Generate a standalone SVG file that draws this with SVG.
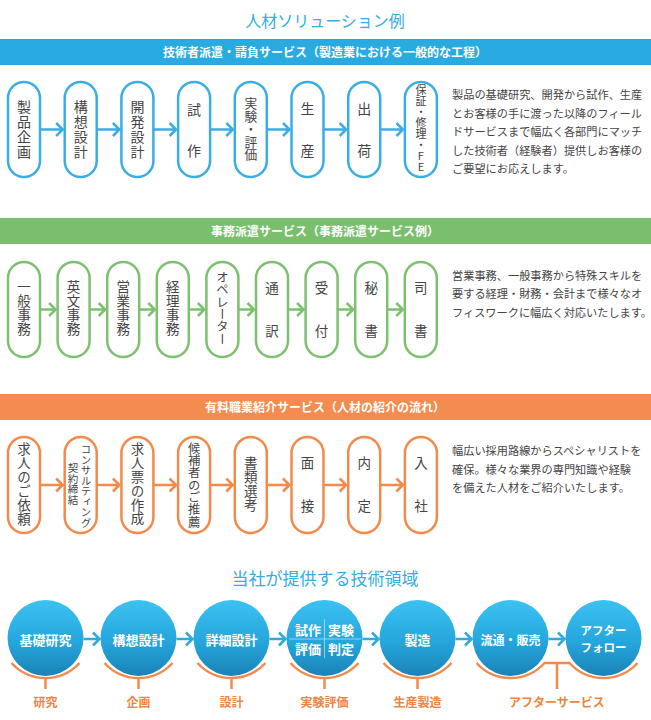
<svg xmlns="http://www.w3.org/2000/svg" width="651" height="720" viewBox="0 0 651 720">
<style>
text{font-family:"Noto Sans CJK JP","Noto Sans",sans-serif}
.title{font-size:16px;fill:#33ade2;text-anchor:middle}
.bn{font-size:12px;font-weight:bold;fill:#fff;text-anchor:middle}
.v{writing-mode:vertical-rl;text-anchor:middle;fill:#444}
.desc{font-size:11.2px;fill:#444}
.pb{fill:#fff;stroke:#3aaee3;stroke-width:2.5}
.pg{fill:#fff;stroke:#7cc070;stroke-width:2.5}
.po{fill:#fff;stroke:#f28a4c;stroke-width:2.5}
.ab{fill:none;stroke:#3aaee3;stroke-width:2.5}
.ag{fill:none;stroke:#7cc070;stroke-width:2.5}
.ao{fill:none;stroke:#f28a4c;stroke-width:2.5}
.ac{fill:none;stroke:#2eaae0;stroke-width:2.5}
.ol{fill:none;stroke:#f28a4c;stroke-width:2.5}
.ct{font-size:13px;font-weight:bold;fill:#fff;text-anchor:middle}
.lb{font-size:12px;font-weight:bold;fill:#f0843e;text-anchor:middle}
</style>
<defs>
<linearGradient id="cg" x1="0" y1="0" x2="0" y2="1">
<stop offset="0" stop-color="#3cc2f2"/>
<stop offset="0.55" stop-color="#25a6dd"/>
<stop offset="1" stop-color="#1b82b6"/>
</linearGradient>
</defs>
<rect width="651" height="720" fill="#fff"/>

<text class="title" x="325" y="27">人材ソリューション例</text>

<!-- Section 1 -->
<g id="banner1">
<rect x="0" y="39" width="651" height="26" fill="#29abe2"/>
<text class="bn" x="325" y="56.5">技術者派遣・請負サービス（製造業における一般的な工程）</text>
</g>
<g id="n1-1"><rect class="pb" x="8" y="82" width="32" height="95" rx="16"/><text class="v" x="24" y="130" font-size="14" letter-spacing="1">製品企画</text></g>
<g id="n1-2"><rect class="pb" x="64.7" y="82" width="32" height="95" rx="16"/><text class="v" x="80.7" y="130" font-size="14" letter-spacing="1">構想設計</text></g>
<g id="n1-3"><rect class="pb" x="121.4" y="82" width="32" height="95" rx="16"/><text class="v" x="137.4" y="130" font-size="14" letter-spacing="1">開発設計</text></g>
<g id="n1-4"><rect class="pb" x="178.1" y="82" width="32" height="95" rx="16"/><text class="v" x="194.1" font-size="14"><tspan y="110">試</tspan><tspan x="194.1" y="151">作</tspan></text></g>
<g id="n1-5"><rect class="pb" x="234.8" y="82" width="32" height="95" rx="16"/><text class="v" x="250.8" y="129" font-size="12.7">実験・評価</text></g>
<g id="n1-6"><rect class="pb" x="291.5" y="82" width="32" height="95" rx="16"/><text class="v" x="307.5" font-size="14"><tspan y="109">生</tspan><tspan x="307.5" y="151">産</tspan></text></g>
<g id="n1-7"><rect class="pb" x="348.2" y="82" width="32" height="95" rx="16"/><text class="v" x="364.2" font-size="14"><tspan y="109">出</tspan><tspan x="364.2" y="151">荷</tspan></text></g>
<g id="n1-8"><rect class="pb" x="404.9" y="82" width="32" height="95" rx="16"/><text class="v" x="420.9" y="128" font-size="11" style="text-orientation:upright">保証・修理・FE</text></g>
<g id="arrows1">
<path class="ab" d="M40 129.5H62.7M56.2 123L62.7 129.5L56.2 136"/>
<path class="ab" d="M96.7 129.5H119.4M112.9 123L119.4 129.5L112.9 136"/>
<path class="ab" d="M153.4 129.5H176.1M169.6 123L176.1 129.5L169.6 136"/>
<path class="ab" d="M210.1 129.5H232.8M226.3 123L232.8 129.5L226.3 136"/>
<path class="ab" d="M266.8 129.5H289.5M283 123L289.5 129.5L283 136"/>
<path class="ab" d="M323.5 129.5H346.2M339.7 123L346.2 129.5L339.7 136"/>
<path class="ab" d="M380.2 129.5H402.9M396.4 123L402.9 129.5L396.4 136"/>
</g>
<text class="desc" x="452"><tspan y="99">製品の基礎研究、開発から試作、生産</tspan><tspan x="452" y="117.5">とお客様の手に渡った以降のフィール</tspan><tspan x="452" y="136">ドサービスまで幅広く各部門にマッチ</tspan><tspan x="452" y="154.5">した技術者（経験者）提供しお客様の</tspan><tspan x="452" y="173">ご要望にお応えします。</tspan></text>

<!-- Section 2 -->
<g id="banner2">
<rect x="0" y="218" width="651" height="26" fill="#79bf6d"/>
<text class="bn" x="325" y="235.5">事務派遣サービス（事務派遣サービス例）</text>
</g>
<g id="n2-1"><rect class="pg" x="8" y="262" width="32" height="95" rx="16"/><text class="v" x="24" y="308" font-size="13.5" letter-spacing="0.3">一般事務</text></g>
<g id="n2-2"><rect class="pg" x="57.6" y="262" width="32" height="95" rx="16"/><text class="v" x="73.6" y="308" font-size="13.5" letter-spacing="0.3">英文事務</text></g>
<g id="n2-3"><rect class="pg" x="107.2" y="262" width="32" height="95" rx="16"/><text class="v" x="123.2" y="308" font-size="13.5" letter-spacing="0.3">営業事務</text></g>
<g id="n2-4"><rect class="pg" x="156.8" y="262" width="32" height="95" rx="16"/><text class="v" x="172.8" y="308" font-size="13.5" letter-spacing="0.3">経理事務</text></g>
<g id="n2-5"><rect class="pg" x="206.4" y="262" width="32" height="95" rx="16"/><text class="v" x="222.4" y="308" font-size="12.4">オペレーター</text></g>
<g id="n2-6"><rect class="pg" x="256" y="262" width="32" height="95" rx="16"/><text class="v" x="272" font-size="13.5"><tspan y="288">通</tspan><tspan x="272" y="330">訳</tspan></text></g>
<g id="n2-7"><rect class="pg" x="305.6" y="262" width="32" height="95" rx="16"/><text class="v" x="321.6" font-size="13.5"><tspan y="288">受</tspan><tspan x="321.6" y="330">付</tspan></text></g>
<g id="n2-8"><rect class="pg" x="355.2" y="262" width="32" height="95" rx="16"/><text class="v" x="371.2" font-size="13.5"><tspan y="288">秘</tspan><tspan x="371.2" y="330">書</tspan></text></g>
<g id="n2-9"><rect class="pg" x="404.8" y="262" width="32" height="95" rx="16"/><text class="v" x="420.8" font-size="13.5"><tspan y="288">司</tspan><tspan x="420.8" y="330">書</tspan></text></g>
<g id="arrows2">
<path class="ag" d="M40 309.5H55.6M49.1 303L55.6 309.5L49.1 316"/>
<path class="ag" d="M89.6 309.5H105.2M98.7 303L105.2 309.5L98.7 316"/>
<path class="ag" d="M139.2 309.5H154.8M148.3 303L154.8 309.5L148.3 316"/>
<path class="ag" d="M188.8 309.5H204.4M197.9 303L204.4 309.5L197.9 316"/>
<path class="ag" d="M238.4 309.5H254M247.5 303L254 309.5L247.5 316"/>
<path class="ag" d="M288 309.5H303.6M297.1 303L303.6 309.5L297.1 316"/>
<path class="ag" d="M337.6 309.5H353.2M346.7 303L353.2 309.5L346.7 316"/>
<path class="ag" d="M387.2 309.5H402.8M396.3 303L402.8 309.5L396.3 316"/>
</g>
<text class="desc" x="452"><tspan y="279.5">営業事務、一般事務から特殊スキルを</tspan><tspan x="452" y="298">要する経理・財務・会計まで様々なオ</tspan><tspan x="452" y="316.5">フィスワークに幅広く対応いたします。</tspan></text>

<!-- Section 3 -->
<g id="banner3">
<rect x="0" y="394" width="651" height="26" fill="#f48b4f"/>
<text class="bn" x="325" y="411.5">有料職業紹介サービス（人材の紹介の流れ）</text>
</g>
<g id="n3-1"><rect class="po" x="8" y="437" width="32" height="96" rx="16"/><text class="v" x="24" y="484" font-size="13.5" letter-spacing="0.5">求人のご依頼</text></g>
<g id="n3-2"><rect class="po" x="64.7" y="437" width="32" height="96" rx="16"/><text class="v" font-size="10.5"><tspan x="86" y="486">コンサルティング</tspan><tspan x="73" y="484">契約締結</tspan></text></g>
<g id="n3-3"><rect class="po" x="121.4" y="437" width="32" height="96" rx="16"/><text class="v" x="137.4" y="484" font-size="13.5" letter-spacing="0.3">求人票の作成</text></g>
<g id="n3-4"><rect class="po" x="178.1" y="437" width="32" height="96" rx="16"/><text class="v" x="194.1" y="485" font-size="12.3">候補者のご推薦</text></g>
<g id="n3-5"><rect class="po" x="234.8" y="437" width="32" height="96" rx="16"/><text class="v" x="250.8" y="484" font-size="13.5" letter-spacing="0.5">書類選考</text></g>
<g id="n3-6"><rect class="po" x="291.5" y="437" width="32" height="96" rx="16"/><text class="v" x="307.5" font-size="13.5"><tspan y="463">面</tspan><tspan x="307.5" y="505">接</tspan></text></g>
<g id="n3-7"><rect class="po" x="348.2" y="437" width="32" height="96" rx="16"/><text class="v" x="364.2" font-size="13.5"><tspan y="463">内</tspan><tspan x="364.2" y="505">定</tspan></text></g>
<g id="n3-8"><rect class="po" x="404.9" y="437" width="32" height="96" rx="16"/><text class="v" x="420.9" font-size="13.5"><tspan y="463">入</tspan><tspan x="420.9" y="505">社</tspan></text></g>
<g id="arrows3">
<path class="ao" d="M40 485H62.7M56.2 478.5L62.7 485L56.2 491.5"/>
<path class="ao" d="M96.7 485H119.4M112.9 478.5L119.4 485L112.9 491.5"/>
<path class="ao" d="M153.4 485H176.1M169.6 478.5L176.1 485L169.6 491.5"/>
<path class="ao" d="M210.1 485H232.8M226.3 478.5L232.8 485L226.3 491.5"/>
<path class="ao" d="M266.8 485H289.5M283 478.5L289.5 485L283 491.5"/>
<path class="ao" d="M323.5 485H346.2M339.7 478.5L346.2 485L339.7 491.5"/>
<path class="ao" d="M380.2 485H402.9M396.4 478.5L402.9 485L396.4 491.5"/>
</g>
<text class="desc" x="452"><tspan y="455">幅広い採用路線からスペシャリストを</tspan><tspan x="452" y="473.5">確保。様々な業界の専門知識や経験</tspan><tspan x="452" y="492">を備えた人材をご紹介いたします。</tspan></text>

<!-- Section 4 -->
<text class="title" x="325" y="585" style="font-size:17px">当社が提供する技術領域</text>
<g id="c1"><circle cx="45.5" cy="638" r="38" fill="url(#cg)"/><text class="ct" x="45.5" y="644.5">基礎研究</text></g>
<g id="c2"><circle cx="138.5" cy="638" r="38" fill="url(#cg)"/><text class="ct" x="138.5" y="644.5">構想設計</text></g>
<g id="c3"><circle cx="231.5" cy="638" r="38" fill="url(#cg)"/><text class="ct" x="231.5" y="644.5">詳細設計</text></g>
<g id="c4"><circle cx="324.5" cy="638" r="38" fill="url(#cg)"/>
<path d="M289 639H361M324.5 619V658" stroke="#fff" stroke-opacity="0.5" stroke-width="1" fill="none"/>
<text class="ct" x="308" y="635">試作</text><text class="ct" x="341" y="635">実験</text>
<text class="ct" x="308" y="654">評価</text><text class="ct" x="341" y="654">判定</text></g>
<g id="c5"><circle cx="417.5" cy="638" r="38" fill="url(#cg)"/><text class="ct" x="417.5" y="644.5">製造</text></g>
<g id="c6"><circle cx="510.5" cy="638" r="38" fill="url(#cg)"/><text class="ct" x="510.5" y="644.5" style="font-size:12px">流通・販売</text></g>
<g id="c7"><circle cx="603.5" cy="638" r="38" fill="url(#cg)"/><text class="ct" x="603.5" y="635" style="font-size:11.5px">アフター</text><text class="ct" x="603.5" y="651.5" style="font-size:11.5px">フォロー</text></g>
<g id="arrows4">
<path class="ac" d="M83.5 639H99.5M93 632.5L99.5 639L93 645.5"/>
<path class="ac" d="M176.5 639H192.5M186 632.5L192.5 639L186 645.5"/>
<path class="ac" d="M269.5 639H285.5M279 632.5L285.5 639L279 645.5"/>
<path class="ac" d="M362.5 639H378.5M372 632.5L378.5 639L372 645.5"/>
<path class="ac" d="M455.5 639H471.5M465 632.5L471.5 639L465 645.5"/>
<path class="ac" d="M548.5 639H564.5M558 632.5L564.5 639L558 645.5"/>
</g>
<g id="labels">
<path class="ol" d="M11.5 663A46 46 0 0 0 79.5 663M45.5 678V689"/>
<text class="lb" x="45.5" y="707">研究</text>
<path class="ol" d="M104.5 663A46 46 0 0 0 172.5 663M138.5 678V689"/>
<text class="lb" x="138.5" y="707">企画</text>
<path class="ol" d="M197.5 663A46 46 0 0 0 265.5 663M231.5 678V689"/>
<text class="lb" x="231.5" y="707">設計</text>
<path class="ol" d="M290.5 663A46 46 0 0 0 358.5 663M324.5 678V689"/>
<text class="lb" x="324.5" y="707">実験評価</text>
<path class="ol" d="M383.5 663A46 46 0 0 0 451.5 663M417.5 678V689"/>
<text class="lb" x="417.5" y="707">生産製造</text>
<path class="ol" d="M476.5 663A46 46 0 0 0 544.5 663H569.5A46 46 0 0 0 637.5 663M557 663V689"/>
<text class="lb" x="557" y="707">アフターサービス</text>
</g>
</svg>
